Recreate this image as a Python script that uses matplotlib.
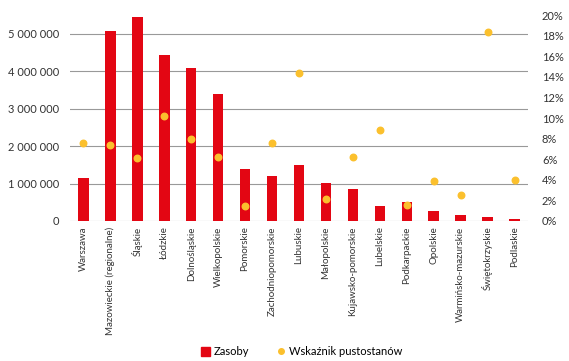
import matplotlib
matplotlib.use("Agg")
import matplotlib.pyplot as plt
from matplotlib.ticker import FuncFormatter, MultipleLocator
from matplotlib.lines import Line2D
from matplotlib.patches import Patch

plt.rcParams['font.family'] = ['Lato', 'DejaVu Sans']

regions = ["Warszawa", "Mazowieckie (regionalne)", "Śląskie", "Łódzkie", "Dolnośląskie",
           "Wielkopolskie", "Pomorskie", "Zachodniopomorskie", "Lubuskie", "Małopolskie",
           "Kujawsko-pomorskie", "Lubelskie", "Podkarpackie", "Opolskie",
           "Warmińsko-mazurskie", "Świętokrzyskie", "Podlaskie"]
zasoby = [1150000, 5080000, 5450000, 4430000, 4090000, 3380000, 1380000, 1210000, 1490000,
          1020000, 850000, 400000, 510000, 270000, 160000, 100000, 60000]
pustostany = [7.6, 7.4, 6.1, 10.2, 8.0, 6.2, 1.45, 7.6, 14.4, 2.1, 6.2, 8.8, 1.55, 3.85, 2.5, 18.4, 3.95]

red = "#E30613"
yellow = "#FBC02D"

fig = plt.figure(figsize=(5.69, 3.61), dpi=100)
ax = fig.add_axes([0.123, 0.388, 0.805, 0.570])
ax2 = ax.twinx()

x = range(len(regions))
ax.bar(x, zasoby, width=0.39, color=red, zorder=2)
ax2.scatter(x, pustostany, s=22, color=yellow, zorder=3)

ax.set_ylim(0, 5500000)
ax.set_yticks([0, 1000000, 2000000, 3000000, 4000000, 5000000])
ax.yaxis.set_major_formatter(FuncFormatter(lambda v, p: f"{int(v):,}".replace(",", " ")))
ax.grid(axis="y", color="#999999", linewidth=0.8, zorder=0)
ax.set_axisbelow(True)
ax.set_xlim(-0.5, len(regions) - 0.5)
ax.set_xticks(list(x))
ax.set_xticklabels(regions, rotation=90, fontsize=7)

ax2.set_ylim(0, 20)
ax2.yaxis.set_major_locator(MultipleLocator(2))
ax2.yaxis.set_major_formatter(FuncFormatter(lambda v, p: f"{int(v)}%"))

for a in (ax, ax2):
    for s in a.spines.values():
        s.set_visible(False)
    a.tick_params(length=0, labelsize=8, colors="#333333")
ax.tick_params(axis="x", labelsize=7, pad=4)
ax.tick_params(axis="y", pad=8)
ax2.tick_params(axis="y", pad=10)

handles = [Patch(color=red, label="Zasoby"),
           Line2D([], [], marker="o", linestyle="", color=yellow, markersize=4,
                  label="Wskaźnik pustostanów")]
fig.legend(handles=handles, loc="center", bbox_to_anchor=(0.53, 0.025), ncol=2,
           frameon=False, fontsize=8, handlelength=0.8, handleheight=0.8,
           columnspacing=2.5, handletextpad=0.3)

fig.savefig("out.png", dpi=100)
